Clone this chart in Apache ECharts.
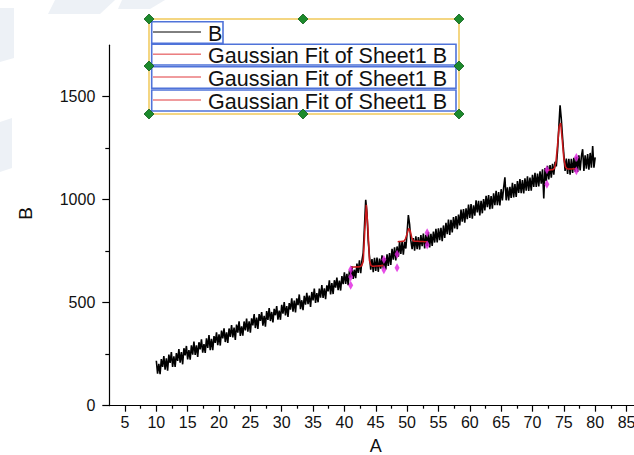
<!DOCTYPE html>
<html><head><meta charset="utf-8">
<script src="https://cdn.jsdelivr.net/npm/echarts@6/dist/echarts.min.js"></script>
<style>html,body{margin:0;padding:0;background:#fff}#c{width:634px;height:455px}</style>
</head><body><div id="c"></div>
<script>
// Measured signal B, sampled every 0.2 from A = 10 to A = 80 (5 samples per unit of A)
const sampleStart = 10;
const sampleStep = 0.2;
const seriesB = [
218,155,203,153,226, 188,241,175,230,170,
248,208,260,188,239, 188,255,217,275,209,
260,201,279,244,290, 225,270,224,293,248,
311,247,293,237,308, 273,322,257,299,256,
327,280,343,270,324, 269,338,305,356,294,
347,292,365,327,376, 309,356,305,375,334,
391,332,379,319,394, 355,410,339,385,340,
409,366,423,359,410, 355,424,390,445,377,
428,373,445,412,454, 389,436,384,459,417,
474,411,455,404,470, 439,484,418,461,417,
490,447,503,438,484, 431,498,466,521,457,
510,453,521,488,540, 469,512,464,533,491,
548,493,535,480,552, 511,568,499,547,502,
569,524,585,523,570, 517,584,555,609,540,
595,542,609,573,622, 561,607,559,629,590,
648,591,640,585,656, 623,676,615,660,619,
690,645,706,643,706, 742,870,1000,935,800,
725,660,712,648,718, 654,719,650,714,665,
730,666,716,662,735, 679,741,683,761,709,
769,705,773,723,797, 737,797,733,795,763,
840,925,880,800,760, 814,752,822,760,818,
758,828,774,836,764, 830,774,842,768,834,
776,845,792,859,792, 861,803,863,799,875,
815,888,833,904,829, 902,841,916,861,920,
857,928,875,952,893, 954,888,958,906,976,
912,979,908,973,922, 997,938,995,924,995,
934,1003,948,1019,964, 1023,954,1017,956,1031,
974,1043,974,1037,972, 1051,996,1059,1109,997,
1060,997,1062,1009,1082, 1011,1076,1013,1090,1033,
1100,1032,1095,1031,1104, 1044,1113,1043,1108,1044,
1121,1062,1131,1062,1127, 1064,1138,1078,1148,1006,
1154,1091,1164,1099,1168, 1107,1174,1121,1184,1162,
1240,1350,1458,1390,1300, 1220,1140,1200,1125,1198,
1122,1199,1130,1203,1136, 1208,1135,1215,1142,1210,
1245,1140,1216,1151,1221, 1146,1227,1155,1261,1155,
1205
];
// Gaussian fits (sampled every 0.25)
const fitStep = 0.25;
const fit1Start = 41.0;
const fit1 = [672,672,673,673,674,674,675,680,700,850,975,860,705,680,677,677,678,678,679,679,680,680];
const fit2Start = 48.5;
const fit2 = [796,797,797,798,799,810,835,860,848,815,800,798,798,798,797,797,797,796,796,796];
const fit3Start = 72.25;
const fit3 = [1142,1143,1144,1145,1146,1152,1185,1265,1355,1372,1290,1200,1160,1150,1149,1149,1149,1150,1150,1150];
// fit range markers
const markA = [41.0,41.0,41.0,46.3,46.3,48.4,48.4,53.2,53.2,72.3,72.3,77.0,77.0];
const markB = [585,625,660,660,710,670,735,780,840,1075,1145,1140,1205];
// axis ticks
const xMajor = [5,10,15,20,25,30,35,40,45,50,55,60,65,70,75,80,85];
const xMinor = [7.5,12.5,17.5,22.5,27.5,32.5,37.5,42.5,47.5,52.5,57.5,62.5,67.5,72.5,77.5,82.5,87.5];
const yMajor = [0,500,1000,1500];
const yMinor = [250,750,1250];
const legendNames = ['B','Gaussian Fit of Sheet1 B','Gaussian Fit of Sheet1 B','Gaussian Fit of Sheet1 B'];

const pairs = (start, step, arr) => arr.map((v, i) => [+(start + i * step).toFixed(2), v]);
const dataB = pairs(sampleStart, sampleStep, seriesB);
const markData = markA.map((a, i) => [a, markB[i]]);

const chart = echarts.init(document.getElementById('c'), null, {renderer: 'svg'});
const FONT = '"Liberation Sans", Arial, sans-serif';
const fitColor = '#c8191b';

// legend box graphics
const rowTop = [21.7, 44.3, 66.7, 90];
const rowH = [21.6, 20.7, 21.6, 21];
const g = [];
const wm = '#edf1f6';
g.push({type:'polygon', silent:true, z:-10, shape:{points:[[55,0],[115,0],[100,14],[48,14]]}, style:{fill:wm}});
g.push({type:'polygon', silent:true, z:-10, shape:{points:[[122,0],[165,0],[150,9],[118,9]]}, style:{fill:wm}});
g.push({type:'polygon', silent:true, z:-10, shape:{points:[[0,8],[14,8],[14,58],[0,62]]}, style:{fill:wm}});
g.push({type:'polygon', silent:true, z:-10, shape:{points:[[0,122],[12,118],[12,168],[0,172]]}, style:{fill:wm}});
g.push({type:'rect', shape:{x:149, y:19, width:310, height:95}, style:{fill:'#fff', stroke:'#f1c95a', lineWidth:1.5}, z:50});
for (let i = 0; i < legendNames.length; i++) {
  const w = i === 0 ? 71.3 : 304.3;
  g.push({type:'rect', shape:{x:151.7, y:rowTop[i], width:w, height:rowH[i]}, style:{fill:'none', stroke:'#4f73d9', lineWidth:1.6}, z:51});
  const ly = rowTop[i] + rowH[i] / 2 - 0.5;
  g.push({type:'line', shape:{x1:153, y1:ly, x2:201, y2:ly}, style:{stroke: i === 0 ? '#000' : '#e0383c', lineWidth:1}, z:52});
  g.push({type:'text', x:208, y:ly + 1.5, style:{text:legendNames[i], fill:'#111', font:'21.5px ' + FONT, textVerticalAlign:'middle'}, z:52});
}
const handles = [[149,19],[303,19],[459,19],[149,66],[459,66],[149,114],[303,114],[459,114]];
handles.forEach(p => g.push({type:'polygon', shape:{points:[[p[0],p[1]-5],[p[0]+5,p[1]],[p[0],p[1]+5],[p[0]-5,p[1]]]}, style:{fill:'#1c8a2c', stroke:'#0f5e1a', lineWidth:0.8}, z:53}));

const axisLineStyle = {color:'#000', width:1.2};
const labelStyle = {color:'#111', fontSize:16, fontFamily:FONT};

chart.setOption({
  animation: false,
  backgroundColor: '#fff',
  grid: {left:109.3, top:45.2, right:-8.2, bottom:49.3, outerBoundsMode:'none', containLabel:false},
  xAxis: [
    {type:'value', min:2.5, max:87.5, position:'bottom',
     axisLine:{show:true, onZero:false, lineStyle:axisLineStyle},
     axisTick:{show:true, customValues:xMajor, length:6, lineStyle:{color:'#000', width:1.2}},
     axisLabel:{show:true, customValues:xMajor, margin:9, formatter:v => String(v), ...labelStyle},
     splitLine:{show:false},
     name:'A', nameLocation:'middle', nameGap:31, nameTextStyle:{fontSize:18, color:'#111', fontFamily:FONT}},
    {type:'value', min:2.5, max:87.5, position:'bottom', offset:0,
     axisLine:{show:false},
     axisTick:{show:true, customValues:xMinor, length:3, lineStyle:{color:'#000', width:1.2}},
     axisLabel:{show:false}, splitLine:{show:false}}
  ],
  yAxis: [
    {type:'value', min:0, max:1750, position:'left',
     axisLine:{show:true, onZero:false, lineStyle:axisLineStyle},
     axisTick:{show:true, customValues:yMajor, length:7, lineStyle:{color:'#000', width:1.2}},
     axisLabel:{show:true, customValues:yMajor, margin:14, formatter:v => String(v), ...labelStyle},
     splitLine:{show:false},
     name:'B', nameLocation:'middle', nameGap:74, nameRotate:90,
     nameTextStyle:{fontSize:19, color:'#111', fontFamily:FONT, padding:[0,0,0,24]}},
    {type:'value', min:0, max:1750, position:'left', offset:0,
     axisLine:{show:false},
     axisTick:{show:true, customValues:yMinor, length:4, lineStyle:{color:'#000', width:1.2}},
     axisLabel:{show:false}, splitLine:{show:false}}
  ],
  series: [
    {name:legendNames[0], type:'line', data:dataB, showSymbol:false, lineStyle:{color:'#000', width:1.6}, itemStyle:{color:'#000'}, z:2},
    {name:legendNames[1], type:'line', data:pairs(fit1Start, fitStep, fit1), showSymbol:false, lineStyle:{color:fitColor, width:1.6}, z:3},
    {name:legendNames[2], type:'line', data:pairs(fit2Start, fitStep, fit2), showSymbol:false, lineStyle:{color:fitColor, width:1.6}, z:3},
    {name:legendNames[3], type:'line', data:pairs(fit3Start, fitStep, fit3), showSymbol:false, lineStyle:{color:fitColor, width:1.6}, z:3},
    {name:'range', type:'scatter', data:markData, symbol:'diamond', symbolSize:[5,9], itemStyle:{color:'#e020e0'}, z:4}
  ],
  graphic: g
});
</script>
</body></html>
